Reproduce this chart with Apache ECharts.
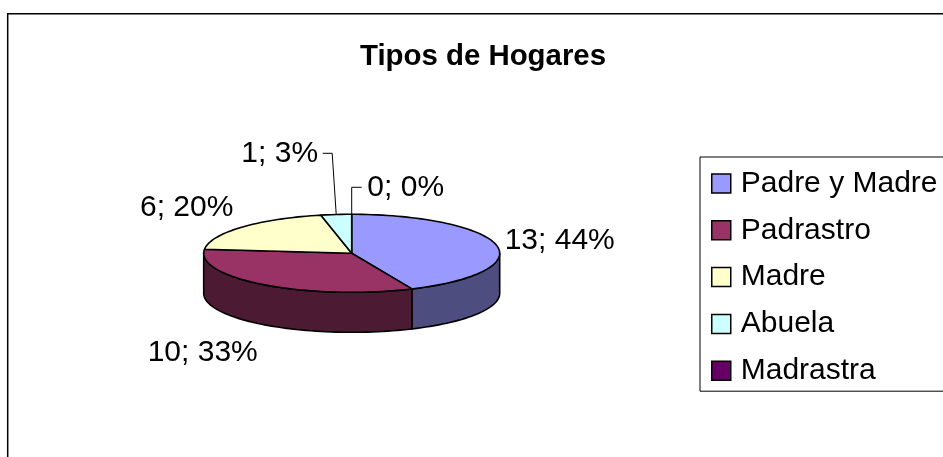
<!DOCTYPE html>
<html lang="es">

<head>
    <meta charset="UTF-8">
    <title>Tipos de Hogares</title>
    <style>
        html, body { margin: 0; padding: 0; background: #fff; }
        #main { width: 943px; height: 457px; }
    </style>
    <script src="https://cdn.jsdelivr.net/npm/echarts@6/dist/echarts.min.js"></script>
</head>

<body>
    <div id="main"></div>
    <script>
        const categories = ['Padre y Madre', 'Padrastro', 'Madre', 'Abuela', 'Madrastra'];
        const values = [13, 10, 6, 1, 0];
        // percentages as printed on the chart, they don't round exactly from the values
        const percents = [44, 33, 20, 3, 0];
        const topColors = ['#9999FF', '#993366', '#FFFFCC', '#CCFFFF', '#660066'];
        const sideColors = ['#4D4D80', '#4D1A33', '#808066', '#668080', '#330033'];

        // pie geometry, in pixels
        const cx = 351.7, cy = 253.3, rx = 148, ry = 39, depth = 40;
        const font = 'Arial, "Liberation Sans", sans-serif';
        const fontSize = 30;

        // label centre relative to pie centre, leader is optional
        const labelOffsets = [
            { dx: 208, dy: -13 },
            { dx: -149, dy: 99 },
            { dx: -165, dy: -46 },
            { dx: -72, dy: -100, leaderFrom: -29 , leaderBend: -19.5 },
            { dx: 54, dy: -66, leaderFrom: 10, leaderBend: 0 }
        ];

        const total = values.reduce((a, b) => a + b, 0);

        function point(deg, drop) {
            const a = deg * Math.PI / 180;
            return [cx + rx * Math.sin(a), cy - ry * Math.cos(a) + (drop || 0)];
        }

        function arcPoints(from, to, drop) {
            const pts = [];
            for (let d = from; d < to; d += 2) pts.push(point(d, drop));
            pts.push(point(to, drop));
            return pts;
        }

        function buildSlice(i, value) {
            const start = values.slice(0, i).reduce((a, b) => a + b, 0) / total * 360;
            const end = start + value / total * 360;
            const outline = { stroke: '#000', lineWidth: 1.6, lineJoin: 'round' };
            const children = [];

            // side wall, only the front half of the pie shows it
            const sideFrom = Math.max(start, 90), sideTo = Math.min(end, 270);
            if (value > 0 && sideTo > sideFrom) {
                const upper = arcPoints(sideFrom, sideTo, 0);
                const lower = arcPoints(sideFrom, sideTo, depth).reverse();
                children.push({
                    type: 'polygon',
                    shape: { points: upper.concat(lower) },
                    style: Object.assign({ fill: sideColors[i] }, outline)
                });
            }
            if (value > 0) {
                children.push({
                    type: 'polygon',
                    z2: 5,
                    shape: { points: [[cx, cy]].concat(arcPoints(start, end, 0)) },
                    style: Object.assign({ fill: topColors[i] }, outline)
                });
            }

            const off = labelOffsets[i];
            const lx = cx + off.dx, ly = cy + off.dy;
            if (off.leaderFrom !== undefined) {
                const tip = point((start + end) / 2, 0);
                children.push({
                    type: 'polyline',
                    z2: 6,
                    shape: { points: [[cx + off.leaderFrom, ly], [cx + off.leaderBend, ly], tip] },
                    style: { stroke: '#000', lineWidth: 1, fill: null }
                });
            }
            children.push({
                type: 'text',
                z2: 7,
                x: lx,
                y: ly,
                style: {
                    text: value + '; ' + percents[i] + '%',
                    font: fontSize + 'px ' + font,
                    fill: '#000',
                    align: 'center',
                    verticalAlign: 'middle'
                }
            });
            return { type: 'group', children: children };
        }

        const chart = echarts.init(document.getElementById('main'));

        chart.setOption({
            animation: false,
            backgroundColor: '#fff',
            title: {
                text: 'Tipos de Hogares',
                left: 478,
                top: 37,
                textAlign: 'center',
                textStyle: { fontFamily: font, fontSize: 29.4, fontWeight: 'bold', color: '#000' }
            },
            legend: {
                left: 700,
                top: 157,
                orient: 'vertical',
                icon: 'rect',
                selectedMode: false,
                itemWidth: 19,
                itemHeight: 19,
                itemGap: 16.8,
                padding: [11.5, 40, 5.5, 11],
                backgroundColor: '#fff',
                borderColor: '#000',
                borderWidth: 1,
                itemStyle: { borderColor: '#000', borderWidth: 1.5 },
                textStyle: { fontFamily: font, fontSize: fontSize, color: '#000', padding: [0, 0, 0, 5] },
                data: categories
            },
            // chart area border, runs off the photographed window on the right and bottom
            graphic: [{
                type: 'rect',
                silent: true,
                shape: { x: 7.7, y: 13.8, width: 1200, height: 900 },
                style: { fill: 'none', stroke: '#000', lineWidth: 1.5 }
            }],
            series: categories.map((name, i) => ({
                type: 'custom',
                name: name,
                coordinateSystem: 'none',
                silent: true,
                itemStyle: { color: topColors[i] },
                data: [[values[i]]],
                renderItem: (params, api) => buildSlice(i, api.value(0))
            }))
        });
    </script>
</body>

</html>
